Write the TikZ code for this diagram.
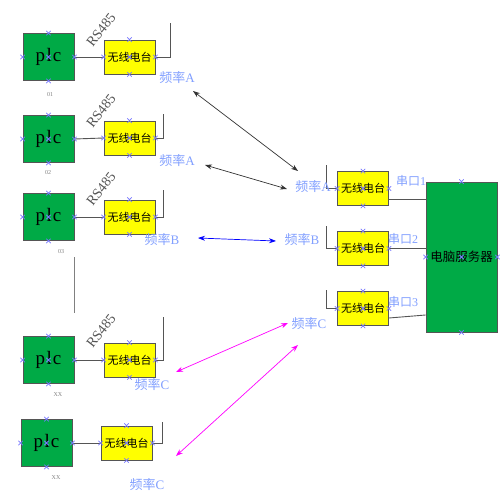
\documentclass[tikz,border=0pt]{standalone}
\usepackage{fontspec}
\setmainfont{Liberation Serif}
\newfontfamily\cjk{Noto Sans CJK SC}
\usetikzlibrary{arrows.meta,calc}
\definecolor{plcgreen}{RGB}{0,170,70}
\definecolor{radioyel}{RGB}{255,255,0}
\definecolor{lblue}{RGB}{130,160,255}
\definecolor{cpblue}{RGB}{120,120,255}
\definecolor{lgray}{RGB}{85,85,85}
\definecolor{mag}{RGB}{255,0,255}
\tikzset{
  plcbox/.style={draw=lgray,line width=0.8pt,fill=plcgreen,minimum width=51pt,minimum height=47pt,inner sep=0pt,font=\fontsize{19}{19}\selectfont},
  radiobox/.style={draw=lgray,line width=0.8pt,fill=radioyel,minimum width=51pt,minimum height=34pt,inner sep=0pt,font=\cjk\fontsize{11}{11}\selectfont},
  srvbox/.style={draw=lgray,line width=0.8pt,fill=plcgreen,minimum width=71pt,minimum height=150pt,inner sep=0pt,font=\cjk\fontsize{12.5}{12.5}\selectfont},
  wire/.style={draw=lgray,line width=0.9pt},
  freq/.style={text=lblue,font=\fontsize{13}{13}\selectfont,inner sep=0pt},
  port/.style={text=lblue,font=\fontsize{12}{12}\selectfont,inner sep=0pt},
  rslbl/.style={text=lgray,font=\fontsize{14}{14}\selectfont,rotate=52,inner sep=0pt},
  numlbl/.style={text=gray,font=\fontsize{6}{6}\selectfont,inner sep=0pt},
  dbl/.style={line width=0.7pt,{Stealth[length=7pt,width=5pt]}-{Stealth[length=7pt,width=5pt]}},
  cpx/.style={cpblue,line width=0.8pt}
}
\newcommand\cpmark[1]{\draw[cpx] ($(#1)+(-2.2,-2.2)$) -- ($(#1)+(2.2,2.2)$) ($(#1)+(-2.2,2.2)$) -- ($(#1)+(2.2,-2.2)$);}
\newcommand\allmarks[1]{\foreach \a in {north,south,east,west,center}{\cpmark{#1.\a}}}
\newcommand\plctext{p\hspace{1.5pt}l\hspace{1pt}c}
\begin{document}
\begin{tikzpicture}[x=1pt,y=-1pt]
\useasboundingbox (0,0) rectangle (500,500);
\fill[white] (0,0) rectangle (500,500);
% left PLCs
\node[plcbox] (p1) at (48.5,57) {\plctext};
\node[plcbox] (p2) at (48.5,139) {\plctext};
\node[plcbox] (p3) at (48.5,217) {\plctext};
\node[plcbox] (p4) at (48.5,360) {\plctext};
\node[plcbox] (p5) at (46.5,443) {\plctext};
% left radios
\node[radiobox] (r1) at (129.5,57) {无线电台};
\node[radiobox] (r2) at (129.5,138) {无线电台};
\node[radiobox] (r3) at (129.5,217) {无线电台};
\node[radiobox] (r4) at (129.5,360) {无线电台};
\node[radiobox] (r5) at (126.5,443) {无线电台};
% right radios and server
\node[radiobox] (q1) at (363,188.5) {无线电台};
\node[radiobox] (q2) at (363,248.5) {无线电台};
\node[radiobox] (q3) at (363,308.5) {无线电台};
\node[srvbox] (srv) at (461.5,257) {电脑服务器};
% PLC to radio wires
\foreach \i in {1,...,5}{\draw[wire] (p\i.east) -- (r\i.west);}
% antennas
\coordinate (a1) at (170,23);
\coordinate (a2) at (163,114);
\coordinate (a3) at (163,190);
\coordinate (a4) at (163,317);
\coordinate (a5) at (162,422);
\foreach \i in {1,...,5}{\draw[wire] (r\i.east) -| (a\i);}
\coordinate (b1) at (326,165);
\coordinate (b2) at (326,226);
\coordinate (b3) at (326,290);
\foreach \i in {1,2,3}{\draw[wire] (q\i.west) -| (b\i);}
% separator line
\coordinate (v1) at (74,257);
\coordinate (v2) at (74,313);
\draw[wire,draw=gray] (v1) -- (v2);
% to server
\coordinate (q1o) at ([yshift=-10.5pt]q1.east);
\coordinate (q3o) at ([yshift=-9.5pt]q3.east);
\coordinate (srv3) at ([yshift=-6.5pt]srv.west |- q3.east);
\draw[wire] (q1o) -- (srv.west |- q1o);
\draw[wire] (q2.east) -- (srv.west |- q2.east);
\draw[wire] (q3o) -- (srv3);
% labels
\node[rslbl] (rs1) at (101,30) {RS485};
\node[rslbl] (rs2) at (101,111) {RS485};
\node[rslbl] (rs3) at (101,189) {RS485};
\node[rslbl] (rs4) at (101,331) {RS485};
\node[numlbl] (n1) at (50,95) {01};
\node[numlbl] (n2) at (48,173) {02};
\node[numlbl] (n3) at (61,252) {03};
\node[numlbl] (n4) at (58,395) {XX};
\node[numlbl] (n5) at (56,478) {XX};
\node[freq] (fa1) at (177,78) {{\cjk 频率}A};
\node[freq] (fa2) at (177,161) {{\cjk 频率}A};
\node[freq] (fb1) at (162,240) {{\cjk 频率}B};
\node[freq] (fc1) at (152,385) {{\cjk 频率}C};
\node[freq] (fc2) at (147,485) {{\cjk 频率}C};
\node[freq] (ga) at (313,187) {{\cjk 频率}A};
\node[freq] (gb) at (302,240) {{\cjk 频率}B};
\node[freq] (gc) at (309,324) {{\cjk 频率}C};
\node[port] (s1) at (411,181) {{\cjk 串口}1};
\node[port] (s2) at (403,239) {{\cjk 串口}2};
\node[port] (s3) at (403,302) {{\cjk 串口}3};
% arrows
\coordinate (e1) at (193,91);  \coordinate (f1) at (298,171);
\coordinate (e2) at (205,165); \coordinate (f2) at (287,189);
\coordinate (e3) at (198,238); \coordinate (f3) at (276,241);
\coordinate (e4) at (176,372); \coordinate (f4) at (288,323);
\coordinate (e5) at (176,456); \coordinate (f5) at (298,345);
\draw[dbl,lgray!60!black] (e1) -- (f1);
\draw[dbl,lgray!60!black] (e2) -- (f2);
\draw[dbl,blue] (e3) -- (f3);
\draw[dbl,mag] (e4) -- (f4);
\draw[dbl,mag] (e5) -- (f5);
% connection point marks
\foreach \n in {p1,p2,p3,p4,p5,r1,r2,r3,r4,r5,q1,q2,q3,srv}{\allmarks{\n}}
\end{tikzpicture}
\end{document}
